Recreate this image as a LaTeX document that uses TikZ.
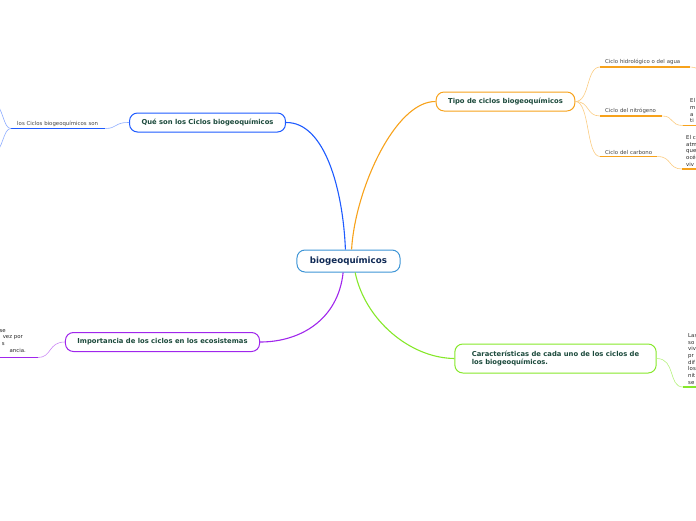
\documentclass[tikz,border=0pt]{standalone}
\usepackage{fontspec}
\setmainfont{DejaVu Sans}
\usepackage{xcolor}
\definecolor{bluebr}   {HTML}{1E5BFF}
\definecolor{orangebr} {HTML}{F7A21B}
\definecolor{purplebr} {HTML}{A026EC}
\definecolor{greenbr}  {HTML}{86E82A}
\definecolor{centerbr} {HTML}{3D95D6}
\definecolor{titletxt} {HTML}{1C4A3C}
\definecolor{centertxt}{HTML}{102A55}
\definecolor{subtxt}   {HTML}{444444}
\usetikzlibrary{positioning}

\begin{document}
\begin{tikzpicture}[x=1pt, y=-1pt,
    topic/.style={draw, rounded corners=8pt, line width=1pt, fill=white,
                  inner xsep=12pt, minimum height=19pt, text=titletxt,
                  font=\fontsize{6.8}{8.5}\selectfont\bfseries},
    subtopic/.style={anchor=south west, inner xsep=5pt, inner ysep=2pt,
                     align=left, text=subtxt, font=\fontsize{5.4}{6.5}\selectfont},
    fragment/.style={anchor=south west, inner ysep=2.5pt, align=left,
                     text=black!85, font=\fontsize{5.4}{6.7}\selectfont},
    tail/.style={anchor=base east, inner sep=0pt,
                 text=black!85, font=\fontsize{5.4}{6.7}\selectfont},
    branch/.style={line width=1.1pt},
    twig/.style={line width=0.6pt},
    underline/.style={line width=1.8pt}]

    \useasboundingbox (0,0) rectangle (696,520);
    \clip (0,0) rectangle (696,520);

    % --- central topic and the four main topics
    \node[topic, draw=centerbr, text=centertxt, minimum height=22pt, inner xsep=13pt,
          font=\fontsize{8.7}{10}\selectfont\bfseries] (bio) at (348.5,261) {biogeoquímicos};
    \node[topic, draw=bluebr] (que) at (207.5,122.5) {Qué son los Ciclos biogeoquímicos};
    \node[topic, draw=orangebr] (tipo) at (505.5,101.5) {Tipo de ciclos biogeoquímicos};
    \node[topic, draw=purplebr] (imp) at (162.5,342) {Importancia de los ciclos en los ecosistemas};
    \node[topic, draw=greenbr, align=left, minimum height=29pt, inner xsep=17pt] (car) at (555.5,358.5)
        {Características de cada uno de los ciclos de\\los biogeoquímicos.};

    \draw[branch, bluebr] (bio.105) .. controls (343,190) and (325,122) .. (que.east);
    \draw[branch, orangebr] (bio.75) .. controls (355,190) and (395,101) .. (tipo.west);
    \draw[branch, purplebr] (bio.245) .. controls (338,320) and (300,342) .. (imp.east);
    \draw[branch, greenbr] (bio.300) .. controls (365,320) and (410,358) .. (car.west);

    % --- left: what the cycles are
    \node[subtopic, inner xsep=6pt, text width=82pt] (queson) at (11,128.5) {los Ciclos biogeoquímicos son};
    \coordinate (queup) at (-8,98);
    \coordinate (quedown) at (-8,158);
    \draw[twig, bluebr!50] (que.west) .. controls (115,122) and (117,128.5) .. (queson.south east);
    \draw[underline, bluebr] (queson.south west) -- (queson.south east);
    \draw[twig, bluebr!50] (queson.south west) .. controls (3,128.5) and (4,108) .. (queup);
    \draw[twig, bluebr!50] (queson.south west) .. controls (3,128.5) and (4,148) .. (quedown);

    % --- right: kinds of cycles
    \node[subtopic, text width=80pt] (hidro) at (600,67) {Ciclo hidrológico o del agua};
    \node[subtopic, text width=52pt] (nitro) at (600,116) {Ciclo del nitrógeno};
    \node[subtopic, text width=47pt] (carb) at (600,156.5) {Ciclo del carbono};
    \coordinate (hidroend) at (722,77);
    \node[fragment, inner xsep=7pt, text width=40pt] (nitrotxt) at (683,125.5) {El\\m\\a\\ti};
    \node[fragment, inner xsep=4pt, text width=40pt] (carbtxt) at (682,169) {El c\\atm\\que\\océ\\viv};

    \draw[twig, orangebr!55] (tipo.east) .. controls (590,101.5) and (586,67) .. (hidro.south west);
    \draw[twig, orangebr!55] (tipo.east) .. controls (590,101.5) and (586,116) .. (nitro.south west);
    \draw[twig, orangebr!55] (tipo.east) .. controls (590,101.5) and (586,156.5) .. (carb.south west);
    \draw[underline, orangebr] (hidro.south west) -- (hidro.south east);
    \draw[underline, orangebr] (nitro.south west) -- (nitro.south east);
    \draw[underline, orangebr] (carb.south west) -- (carb.south east);
    \draw[twig, orangebr!55] (hidro.south east) .. controls (700,67) and (704,76) .. (hidroend);
    \draw[twig, orangebr!55] (nitro.south east) .. controls (674,116) and (670,125.5) .. (nitrotxt.south west);
    \draw[twig, orangebr!55] (carb.south east) .. controls (672,156.5) and (668,169) .. (carbtxt.south west);
    \draw[underline, orangebr] (nitrotxt.south west) -- (nitrotxt.south east);
    \draw[underline, orangebr] (carbtxt.south west) -- (carbtxt.south east);

    % --- left: importance (text runs off the page)
    \node[tail] (impa) at (6,332) {se};
    \node[tail] (impb) at (23,338.7) {vez por};
    \node[tail] (impc) at (5,345.4) {s};
    \node[tail] (impd) at (26,352.1) {ancia.};
    \coordinate (impleft) at (-10,357.5);
    \coordinate (impline) at (38,357.5);
    \draw[underline, purplebr] (impleft) -- (impline);
    \draw[twig, purplebr!55] (impline) .. controls (52,357.5) and (48,342) .. (imp.west);

    % --- right: features of each cycle
    \node[fragment, inner xsep=5pt, text width=40pt] (cartxt) at (683,387)
        {Las\\so\\viv\\pr\\dif\\los\\nit\\se};
    \draw[twig, greenbr!60] (car.east) .. controls (676,358.5) and (668,387) .. (cartxt.south west);
    \draw[underline, greenbr] (cartxt.south west) -- (cartxt.south east);
\end{tikzpicture}
\end{document}
